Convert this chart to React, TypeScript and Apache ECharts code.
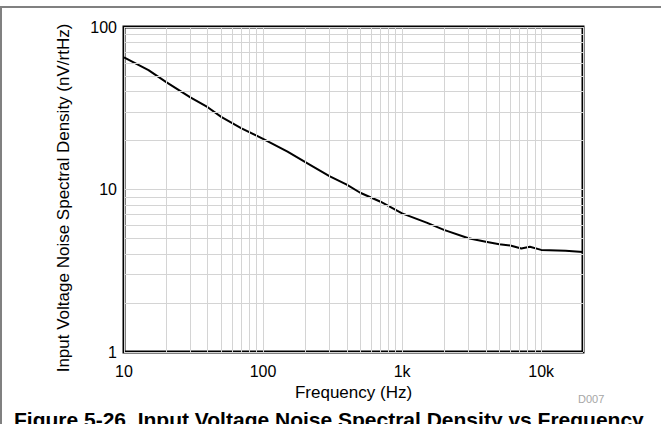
import React, { useEffect, useRef } from "react";
import * as echarts from "echarts";

const freqHz = [10, 15, 20, 30, 40, 50, 70, 100, 150, 200, 300, 400, 500, 700, 1000, 1500, 2000, 3000, 4000, 5000, 6000, 7200, 8300, 10000, 15000, 20000];
const noiseNv = [65, 54.3, 46, 36.9, 32.1, 28, 23.8, 20.5, 17.1, 14.8, 12.1, 10.7, 9.55, 8.41, 7.13, 6.25, 5.64, 5.01, 4.77, 4.6, 4.52, 4.33, 4.44, 4.25, 4.2, 4.12];
const xMinorGrid = [20, 30, 40, 50, 60, 70, 80, 90, 200, 300, 400, 500, 600, 700, 800, 900, 2000, 3000, 4000, 5000, 6000, 7000, 8000, 9000];
const yMinorGrid = [2, 3, 4, 5, 6, 7, 8, 9, 20, 30, 40, 50, 60, 70, 80, 90];

const FONT = "'Liberation Sans', Arial, sans-serif";
const GRID_COLOR = "#d4d4d4";

export default function App() {
  const ref = useRef<HTMLDivElement>(null);
  useEffect(() => {
    const chart = echarts.init(ref.current!, null, { renderer: "svg" });
    chart.setOption({
      animation: false,
      backgroundColor: "#fff",
      textStyle: { fontFamily: FONT },
      grid: {
        left: 124,
        top: 27,
        right: 78,
        bottom: 72,
        show: true,
        borderColor: "#000",
        borderWidth: 3,
        backgroundColor: "transparent",
      },
      xAxis: {
        type: "log",
        logBase: 10,
        min: 10,
        max: 20000,
        interval: 1,
        name: "Frequency (Hz)",
        nameLocation: "middle",
        nameGap: 28,
        nameTextStyle: { fontSize: 17, color: "#000", fontFamily: FONT },
        axisLine: { show: false },
        axisTick: { show: false },
        axisLabel: {
          fontSize: 16,
          color: "#000",
          fontFamily: FONT,
          margin: 11,
          showMaxLabel: false,
          formatter: (v: number) => (v >= 1000 ? Math.round(v / 1000) + "k" : String(Math.round(v))),
        },
        splitLine: { show: true, lineStyle: { color: GRID_COLOR, width: 1 } },
      },
      yAxis: {
        type: "log",
        logBase: 10,
        min: 1,
        max: 100,
        interval: 1,
        name: "Input Voltage Noise Spectral Density (nV/rtHz)",
        nameLocation: "middle",
        nameGap: 52,
        nameRotate: 90,
        nameTextStyle: { fontSize: 17, color: "#000", fontFamily: FONT, padding: [0, 17, 0, 0] },
        axisLine: { show: false },
        axisTick: { show: false },
        axisLabel: { fontSize: 16, color: "#000", fontFamily: FONT, margin: 7 },
        splitLine: { show: true, lineStyle: { color: GRID_COLOR, width: 1 } },
      },
      series: [
        {
          type: "line",
          data: [],
          silent: true,
          z: 1,
          markLine: {
            silent: true,
            symbol: "none",
            label: { show: false },
            lineStyle: { color: GRID_COLOR, type: "solid", width: 1 },
            emphasis: { disabled: true },
            data: [
              ...xMinorGrid.map((v) => ({ xAxis: v })),
              ...yMinorGrid.map((v) => ({ yAxis: v })),
            ],
          },
        },
        {
          type: "line",
          z: 3,
          data: freqHz.map((f, i) => [f, noiseNv[i]]),
          showSymbol: false,
          symbol: "none",
          lineStyle: { color: "#000", width: 2 },
          smooth: false,
        },
      ],
      graphic: [
        { type: "line", shape: { x1: 0, y1: 7, x2: 661, y2: 7 }, style: { stroke: "#808080", lineWidth: 2 } },
        { type: "line", shape: { x1: 1, y1: 7, x2: 1, y2: 424 }, style: { stroke: "#808080", lineWidth: 2 } },
        {
          type: "text",
          x: 578,
          y: 393,
          style: { text: "D007", fill: "#a6a6a6", font: `11px ${FONT}` },
        },
        {
          type: "text",
          x: 14,
          y: 409,
          style: { text: "Figure 5-26. Input Voltage Noise Spectral Density vs Frequency", fill: "#000", font: `bold 21px ${FONT}` },
        },
      ],
    });
    return () => chart.dispose();
  }, []);
  return <div ref={ref} style={{ position: "fixed", left: 0, top: 0, width: 661, height: 424 }} />;
}
